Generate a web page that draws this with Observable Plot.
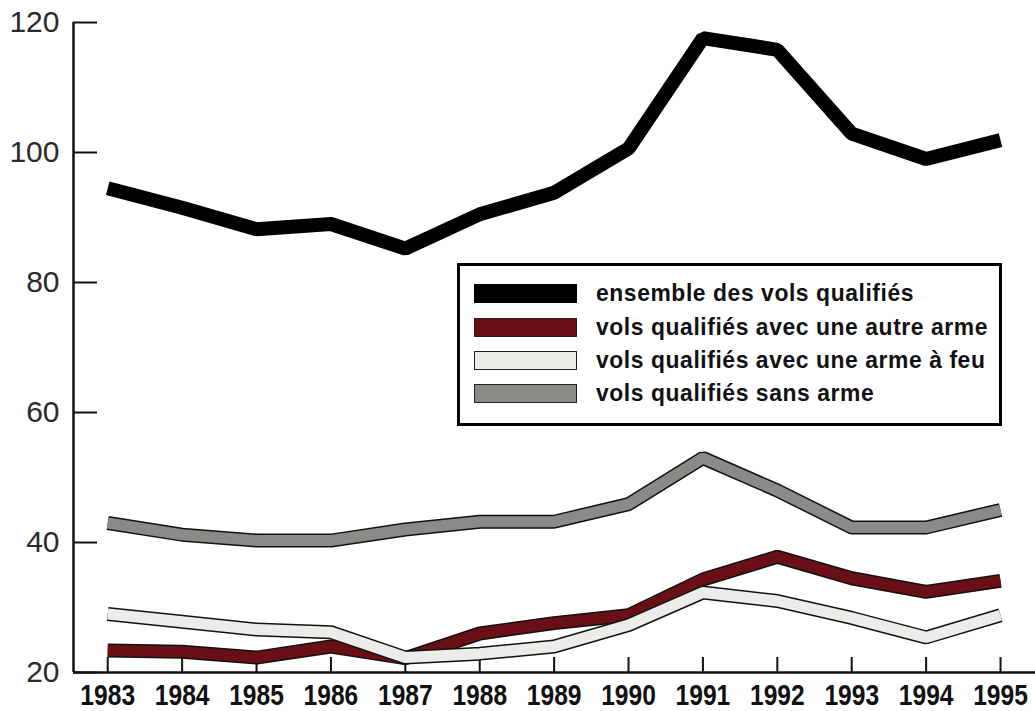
<!DOCTYPE html>
<html>
<head>
<meta charset="utf-8">
<script src="https://cdn.jsdelivr.net/npm/d3@7"></script>
<script src="https://cdn.jsdelivr.net/npm/@observablehq/plot@0.6"></script>
<style>
  html, body { margin: 0; padding: 0; background: #fff; }
  #wrap { position: relative; width: 1035px; height: 711px; }
  #legend {
    position: absolute; left: 457px; top: 263px; width: 539px; height: 157px;
    border: 3px solid #000; background: #fff; box-sizing: content-box;
    font-family: "Liberation Sans", Arial, sans-serif;
    font-size: 24px; font-weight: bold; color: #111;
  }
  .row { position: absolute; left: 14px; height: 20px; display: flex; align-items: center; }
  .sw { width: 101px; height: 17px; border: 1px solid #222; margin-right: 19px; flex: none; }
  .lab { display: inline-block; white-space: nowrap; letter-spacing: 0.6px; transform-origin: 0 50%; }
</style>
</head>
<body>
<div id="wrap"><div id="chart"></div><div id="legend"></div></div>
<script>
const years = [1983,1984,1985,1986,1987,1988,1989,1990,1991,1992,1993,1994,1995];
const ensemble   = [94.5, 91.5, 88.2, 89.0, 85.2, 90.5, 93.8, 100.6, 117.6, 115.8, 102.9, 99.0, 101.9];
const autreArme  = [23.4, 23.2, 22.3, 24.0, 22.2, 26.0, 27.6, 28.8, 34.3, 37.8, 34.5, 32.4, 34.1];
const armeAFeu   = [29.0, 27.8, 26.6, 26.2, 22.3, 22.9, 24.0, 27.3, 32.3, 31.0, 28.4, 25.4, 28.8];
const sansArme   = [43.0, 41.2, 40.3, 40.3, 42.0, 43.2, 43.2, 45.9, 53.0, 48.0, 42.3, 42.3, 45.0];

const seriesNames = [
  "ensemble des vols qualifiés",
  "vols qualifiés avec une autre arme",
  "vols qualifiés avec une arme à feu",
  "vols qualifiés sans arme"
];
const seriesValues = [ensemble, autreArme, armeAFeu, sansArme];
const seriesColors = ["#000000", "#6b0f16", "#ececE8", "#8a8a86"];
const yTicks = [20, 40, 60, 80, 100, 120];
const xDomain = [1982.54, 1995.47];
const yDomain = [20, 120];

const rows = seriesNames.map((name, i) => years.map((yr, j) => ({year: yr, value: seriesValues[i][j], series: name})));
const [rowsEns, rowsAutre, rowsFeu, rowsSans] = rows;

const outlined = (data, color) => [
  Plot.line(data, {x: "year", y: "value", stroke: "#111", strokeWidth: 14, strokeLinejoin: "miter", strokeLinecap: "butt"}),
  Plot.line(data, {x: "year", y: "value", stroke: color, strokeWidth: 11, strokeLinejoin: "miter", strokeLinecap: "butt"})
];

const chart = Plot.plot({
  width: 1035,
  height: 711,
  marginLeft: 73,
  marginRight: 0,
  marginTop: 22,
  marginBottom: 39,
  x: {domain: xDomain, label: null},
  y: {domain: yDomain, label: null},
  style: {background: "#fff", overflow: "visible"},
  marks: [
    Plot.axisY(yTicks, {tickSize: -24, text: null, label: null, stroke: "#111", strokeWidth: 2}),
    Plot.axisY(yTicks, {tickSize: 0, tickPadding: 14, label: null, fontSize: 30, fill: "#2a2a2a",
      fontFamily: "'Liberation Sans', Arial, sans-serif"}),
    Plot.axisX(years, {tickSize: -15, text: null, label: null, stroke: "#111", strokeWidth: 2}),
    Plot.axisX(years, {tickSize: 0, tickPadding: 11, label: null, fontSize: 30, fontWeight: "bold", fill: "#111",
      tickFormat: d => String(d),
      fontFamily: "'Liberation Sans', Arial, sans-serif"}),
    Plot.ruleX([xDomain[0]], {stroke: "#111", strokeWidth: 2.5}),
    Plot.ruleY([yDomain[0]], {stroke: "#111", strokeWidth: 2.5}),
    ...outlined(rowsSans, seriesColors[3]),
    ...outlined(rowsAutre, seriesColors[1]),
    ...outlined(rowsFeu, seriesColors[2]),
    Plot.line(rowsEns, {x: "year", y: "value", stroke: seriesColors[0], strokeWidth: 14, strokeLinejoin: "miter", strokeLinecap: "butt"})
  ]
});
document.getElementById("chart").appendChild(chart);

// condense the year labels (no narrow font is installed)
d3.select(chart).selectAll('g[aria-label="x-axis tick label"] text').each(function() {
  const t = this.getAttribute("transform") || "";
  this.setAttribute("transform", t + " scale(0.82,1)");
});

const legend = document.getElementById("legend");
const rowTops = [17, 51, 84, 117];
const labs = [];
seriesNames.forEach((name, i) => {
  const r = document.createElement("div");
  r.className = "row";
  r.style.top = rowTops[i] + "px";
  const sw = document.createElement("div");
  sw.className = "sw";
  sw.style.background = seriesColors[i];
  if (i === 0) sw.style.borderColor = "#000";
  const lab = document.createElement("span");
  lab.className = "lab";
  lab.textContent = name;
  r.appendChild(sw); r.appendChild(lab);
  legend.appendChild(r);
  labs.push(lab);
});
// narrow the legend text so the longest label spans the same width as in the reference
const targetWidth = 392;
const widest = Math.max(...labs.map(l => l.getBoundingClientRect().width));
const k = targetWidth / widest;
labs.forEach(l => { l.style.transform = `scaleX(${k})`; });
</script>
</body>
</html>
